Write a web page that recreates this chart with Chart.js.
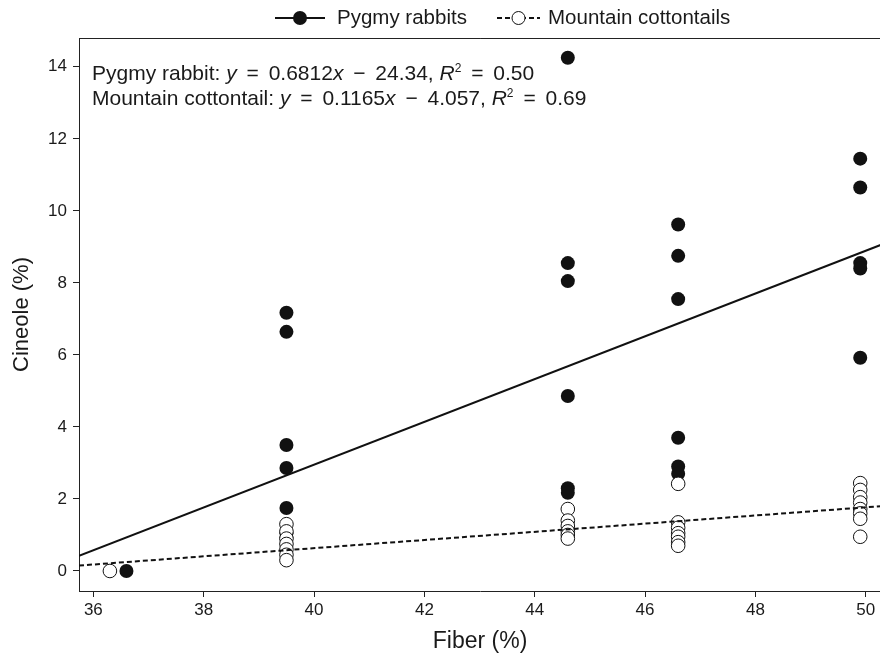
<!DOCTYPE html>
<html lang="en">
<head>
    <meta charset="UTF-8">
    <title>Cineole vs Fiber</title>
    <script src="https://cdn.jsdelivr.net/npm/chart.js"></script>
    <style>
        body {
            margin: 0;
            background: #fff;
            overflow: hidden;
        }

        /* a little wider than the window: the plot frame runs off the right edge */
        .chart-container {
            width: 889px;
            height: 657px;
        }
    </style>
</head>
<body>
    <div class="chart-container">
        <canvas id="scatterChart"></canvas>
    </div>
    <script>
        // values
        const fiberTicks = [36, 38, 40, 42, 44, 46, 48, 50];
        const cineoleTicks = [0, 2, 4, 6, 8, 10, 12, 14];

        const pygmyFiber = [36.6, 39.5, 39.5, 39.5, 39.5, 39.5, 39.5, 39.5,
            44.6, 44.6, 44.6, 44.6, 44.6, 44.6,
            46.6, 46.6, 46.6, 46.6, 46.6, 46.6,
            49.9, 49.9, 49.9, 49.9, 49.9];
        const pygmyCineole = [0, 7.17, 6.64, 3.5, 2.86, 1.75, 1.05, 0.92,
            14.25, 8.55, 8.05, 4.86, 2.3, 2.17,
            9.62, 8.75, 7.55, 3.7, 2.9, 2.7,
            11.45, 10.65, 8.55, 8.4, 5.92];

        const cottonFiber = [36.3, 39.5, 39.5, 39.5, 39.5, 39.5, 39.5, 39.5,
            44.6, 44.6, 44.6, 44.6, 44.6, 44.6,
            46.6, 46.6, 46.6, 46.6, 46.6, 46.6, 46.6,
            49.9, 49.9, 49.9, 49.9, 49.9, 49.9, 49.9, 49.9];
        const cottonCineole = [0, 1.3, 1.1, 0.9, 0.75, 0.6, 0.45, 0.3,
            1.72, 1.4, 1.25, 1.1, 1.0, 0.9,
            2.42, 1.35, 1.2, 1.05, 0.95, 0.8, 0.7,
            2.44, 2.25, 2.05, 1.9, 1.72, 1.6, 1.45, 0.95];

        // fitted lines as drawn across the plot
        const pygmyFitX = [35.74, 50.28];
        const pygmyFitY = [0.42, 9.06];
        const cottonFitX = [35.74, 50.28];
        const cottonFitY = [0.15, 1.8];

        const toPoints = (xs, ys) => xs.map((x, i) => ({ x: x, y: ys[i] }));

        const textColor = '#1a1a1a';
        const fontFamily = '"Liberation Sans", Arial, sans-serif';

        // legend, frame top and equation text
        const extras = {
            id: 'extras',
            afterDraw(chart) {
                const ctx = chart.ctx;
                const area = chart.chartArea;
                ctx.save();

                // top border of frame
                ctx.strokeStyle = '#222';
                ctx.lineWidth = 1;
                ctx.beginPath();
                ctx.moveTo(area.left, area.top + 0.5);
                ctx.lineTo(area.right, area.top + 0.5);
                ctx.stroke();

                // legend
                const ly = 18;
                ctx.lineWidth = 2;
                ctx.strokeStyle = '#111';
                ctx.beginPath();
                ctx.moveTo(275, ly);
                ctx.lineTo(325, ly);
                ctx.stroke();
                ctx.fillStyle = '#111';
                ctx.beginPath();
                ctx.arc(300, ly, 7, 0, Math.PI * 2);
                ctx.fill();

                ctx.setLineDash([5, 3]);
                ctx.beginPath();
                ctx.moveTo(497, ly);
                ctx.lineTo(540, ly);
                ctx.stroke();
                ctx.setLineDash([]);
                ctx.lineWidth = 1;
                ctx.fillStyle = '#fff';
                ctx.beginPath();
                ctx.arc(518.5, ly, 6.5, 0, Math.PI * 2);
                ctx.fill();
                ctx.stroke();

                ctx.fillStyle = textColor;
                ctx.font = '20.5px ' + fontFamily;
                ctx.textBaseline = 'middle';
                ctx.textAlign = 'left';
                ctx.fillText('Pygmy rabbits', 337, ly);
                ctx.fillText('Mountain cottontails', 548, ly);

                // equations: [text, style, extra gap on each side]
                const lines = [
                    [['Pygmy rabbit: ', 'n'], ['y', 'i'], [' = ', 'n', 4], ['0.6812', 'n'], ['x', 'i'],
                        [' \u2212 ', 'n', 4], ['24.34, ', 'n'], ['R', 'i'], ['2', 's'], [' = ', 'n', 4], ['0.50', 'n']],
                    [['Mountain cottontail: ', 'n'], ['y', 'i'], [' = ', 'n', 4], ['0.1165', 'n'], ['x', 'i'],
                        [' \u2212 ', 'n', 4], ['4.057, ', 'n'], ['R', 'i'], ['2', 's'], [' = ', 'n', 4], ['0.69', 'n']]
                ];
                ctx.textBaseline = 'alphabetic';
                lines.forEach((parts, row) => {
                    let x = 92;
                    const y = 80 + row * 25;
                    parts.forEach(([t, style, gap]) => {
                        let dy = 0;
                        if (style === 'i') ctx.font = 'italic 21px ' + fontFamily;
                        else if (style === 's') { ctx.font = '12px ' + fontFamily; dy = -8; }
                        else ctx.font = '21px ' + fontFamily;
                        x += gap || 0;
                        ctx.fillText(t, x, y + dy);
                        x += ctx.measureText(t).width + (gap || 0);
                    });
                });

                ctx.restore();
            }
        };

        const ctx = document.getElementById('scatterChart').getContext('2d');
        new Chart(ctx, {
            type: 'scatter',
            data: {
                datasets: [
                    {
                        type: 'line',
                        data: toPoints(pygmyFitX, pygmyFitY),
                        borderColor: '#111',
                        borderWidth: 2,
                        pointRadius: 0,
                        fill: false
                    },
                    {
                        type: 'line',
                        data: toPoints(cottonFitX, cottonFitY),
                        borderColor: '#111',
                        borderWidth: 2,
                        borderDash: [5, 3],
                        pointRadius: 0,
                        fill: false
                    },
                    {
                        label: 'Mountain cottontails',
                        data: toPoints(cottonFiber, cottonCineole),
                        backgroundColor: '#fff',
                        borderColor: '#111',
                        borderWidth: 1,
                        pointRadius: 6.8
                    },
                    {
                        label: 'Pygmy rabbits',
                        data: toPoints(pygmyFiber, pygmyCineole),
                        backgroundColor: '#111',
                        borderColor: '#111',
                        borderWidth: 0,
                        pointRadius: 7
                    }
                ]
            },
            options: {
                responsive: true,
                maintainAspectRatio: false,
                animation: false,
                layout: {
                    padding: { top: 38, right: 0, left: 0, bottom: 0 }
                },
                plugins: {
                    legend: { display: false },
                    tooltip: { enabled: false }
                },
                scales: {
                    x: {
                        type: 'linear',
                        min: 35.74,
                        max: 50.28,
                        afterBuildTicks: scale => {
                            scale.ticks = fiberTicks.map(v => ({ value: v }));
                        },
                        afterFit: scale => { scale.height = 66; },
                        grid: { drawOnChartArea: false, tickLength: 6, color: '#222' },
                        border: { color: '#222', width: 1 },
                        ticks: {
                            color: textColor,
                            font: { size: 17, family: fontFamily },
                            padding: 3,
                            maxRotation: 0
                        },
                        title: {
                            display: true,
                            text: 'Fiber (%)',
                            color: textColor,
                            font: { size: 23, family: fontFamily },
                            padding: { top: 4, bottom: 2 }
                        }
                    },
                    y: {
                        min: -0.556,
                        max: 14.8,
                        afterBuildTicks: scale => {
                            scale.ticks = cineoleTicks.map(v => ({ value: v }));
                        },
                        afterFit: scale => { scale.width = 79; },
                        grid: { drawOnChartArea: false, tickLength: 6, color: '#222' },
                        border: { color: '#222', width: 1 },
                        ticks: {
                            color: textColor,
                            font: { size: 17, family: fontFamily },
                            padding: 6
                        },
                        title: {
                            display: true,
                            text: 'Cineole (%)',
                            color: textColor,
                            font: { size: 22, family: fontFamily },
                            padding: { top: 9, bottom: 0 }
                        }
                    }
                }
            },
            plugins: [extras]
        });
    </script>
</body>
</html>
